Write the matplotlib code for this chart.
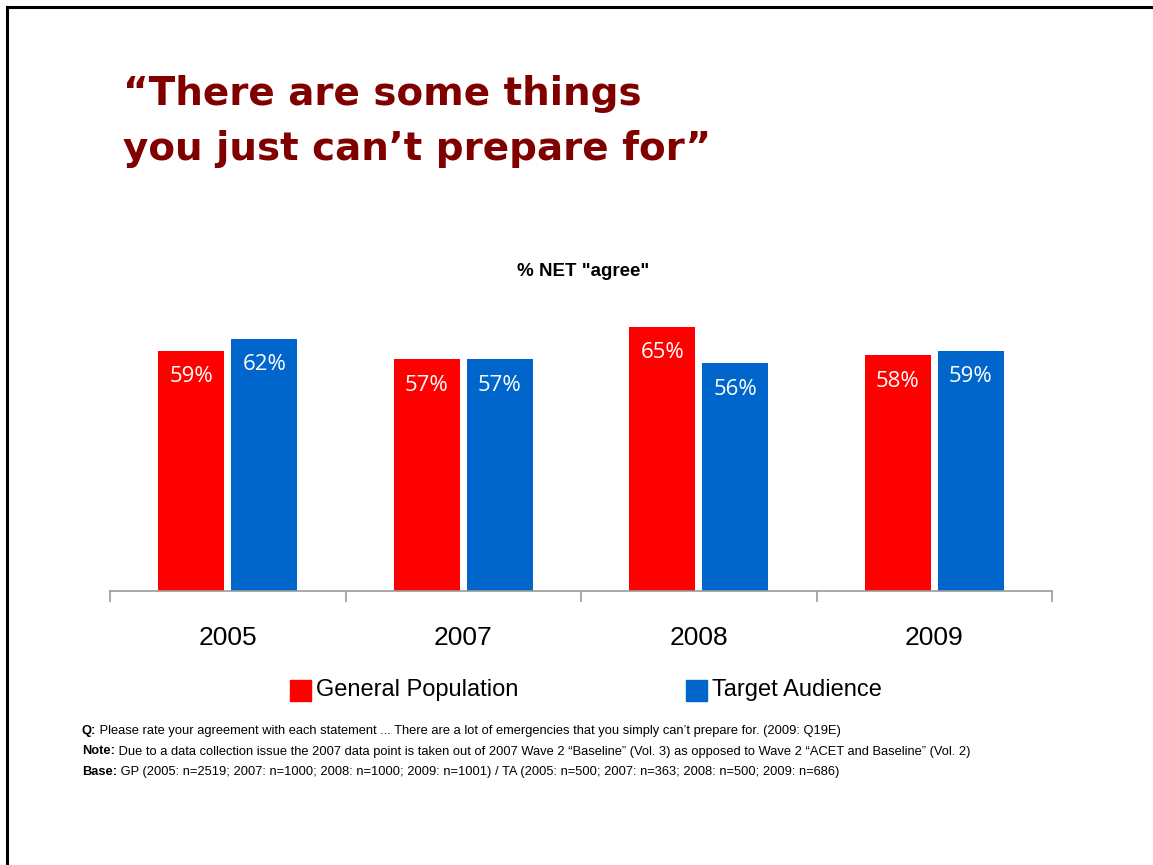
import numpy as np
import matplotlib
matplotlib.use("Agg")
import matplotlib.pyplot as plt
from matplotlib.lines import Line2D
from matplotlib.patches import Rectangle

# survey results, % NET "agree"
years = ["2005", "2007", "2008", "2009"]
general_pop = [59, 57, 65, 58]
target_aud = [62, 57, 56, 59]
series_names = ["General Population", "Target Audience"]

title_lines = ["\u201cThere are some things", "you just can\u2019t prepare for\u201d"]
footnotes = [
    ("Q:", " Please rate your agreement with each statement ... There are a lot of emergencies that you simply can\u2019t prepare for. (2009: Q19E)"),
    ("Note:", " Due to a data collection issue the 2007 data point is taken out of 2007 Wave 2 \u201cBaseline\u201d (Vol. 3) as opposed to Wave 2 \u201cACET and Baseline\u201d (Vol. 2)"),
    ("Base:", " GP (2005: n=2519; 2007: n=1000; 2008: n=1000; 2009: n=1001) / TA (2005: n=500; 2007: n=363; 2008: n=500; 2009: n=686)"),
]

RED = "#ff0000"
BLUE = "#0066cc"
TITLE_RED = "#800000"
narrow = ["Liberation Sans Narrow", "Liberation Sans", "DejaVu Sans"]

W, H = 1153, 865
fig = plt.figure(figsize=(W / 100, H / 100), dpi=100)
fig.patch.set_facecolor("white")

# slide frame (left and top edges)
fig.add_artist(Line2D([7 / W, 7 / W], [0, 1 - 7 / H], color="black", lw=2.2))
fig.add_artist(Line2D([7 / W, 1], [1 - 7 / H, 1 - 7 / H], color="black", lw=2.2))

for i, line in enumerate(title_lines):
    fig.text(123 / W, 1 - (105 + 55 * i) / H, line, color=TITLE_RED, fontsize=28,
             fontweight="bold", family="DejaVu Sans", va="baseline", ha="left")

fig.text(583 / W, 1 - 271 / H, '% NET "agree"', ha="center", va="center",
         fontsize=13.5, fontweight="bold", family=narrow)

ax = fig.add_axes([110 / W, 1 - 591 / H, (1052 - 110) / W, (591 - 300) / H])
x = np.arange(len(years))
width = 0.28
off = 0.155
b1 = ax.bar(x - off, general_pop, width, color=RED)
b2 = ax.bar(x + off, target_aud, width, color=BLUE)

for bars, vals in ((b1, general_pop), (b2, target_aud)):
    for rect, v in zip(bars, vals):
        ax.annotate(f"{v}%", (rect.get_x() + rect.get_width() / 2, v),
                    xytext=(0, -11), textcoords="offset points",
                    ha="center", va="top", color="white", fontsize=16,
                    family=["Open Sans", "DejaVu Sans"])

ax.set_xlim(-0.5, len(years) - 0.5)
ax.set_ylim(0, 291 / 4.065)
for s in ("left", "right", "top"):
    ax.spines[s].set_visible(False)
ax.spines["bottom"].set_color("#999999")
ax.spines["bottom"].set_linewidth(1.2)
ax.set_yticks([])
ax.set_xticks(np.arange(len(years) + 1) - 0.5)
ax.set_xticklabels([])
ax.tick_params(axis="x", length=8, width=1.2, color="#999999", direction="out")
for i, yr in enumerate(years):
    ax.text(i, -0.16, yr, transform=ax.get_xaxis_transform(), ha="center", va="center",
            fontsize=19, family=narrow)

# legend drawn by hand
for (lx, name, col) in ((290, series_names[0], RED), (686, series_names[1], BLUE)):
    fig.add_artist(Rectangle((lx / W, 1 - 701 / H), 21 / W, 21 / H, color=col,
                             transform=fig.transFigure))
    fig.text((lx + 26) / W, 1 - 690 / H, name, ha="left", va="center",
             fontsize=17, family=narrow)

renderer = fig.canvas.get_renderer()
for k, (head, rest) in enumerate(footnotes):
    yy = 1 - (731 + 20.5 * k) / H
    t = fig.text(82 / W, yy, head, fontsize=9.3, fontweight="bold", family=narrow,
                 va="center", ha="left")
    bb = t.get_window_extent(renderer)
    fig.text(bb.x1 / W, yy, rest, fontsize=9.3, family=narrow, va="center", ha="left")

fig.savefig("out.png", dpi=100, facecolor="white")
